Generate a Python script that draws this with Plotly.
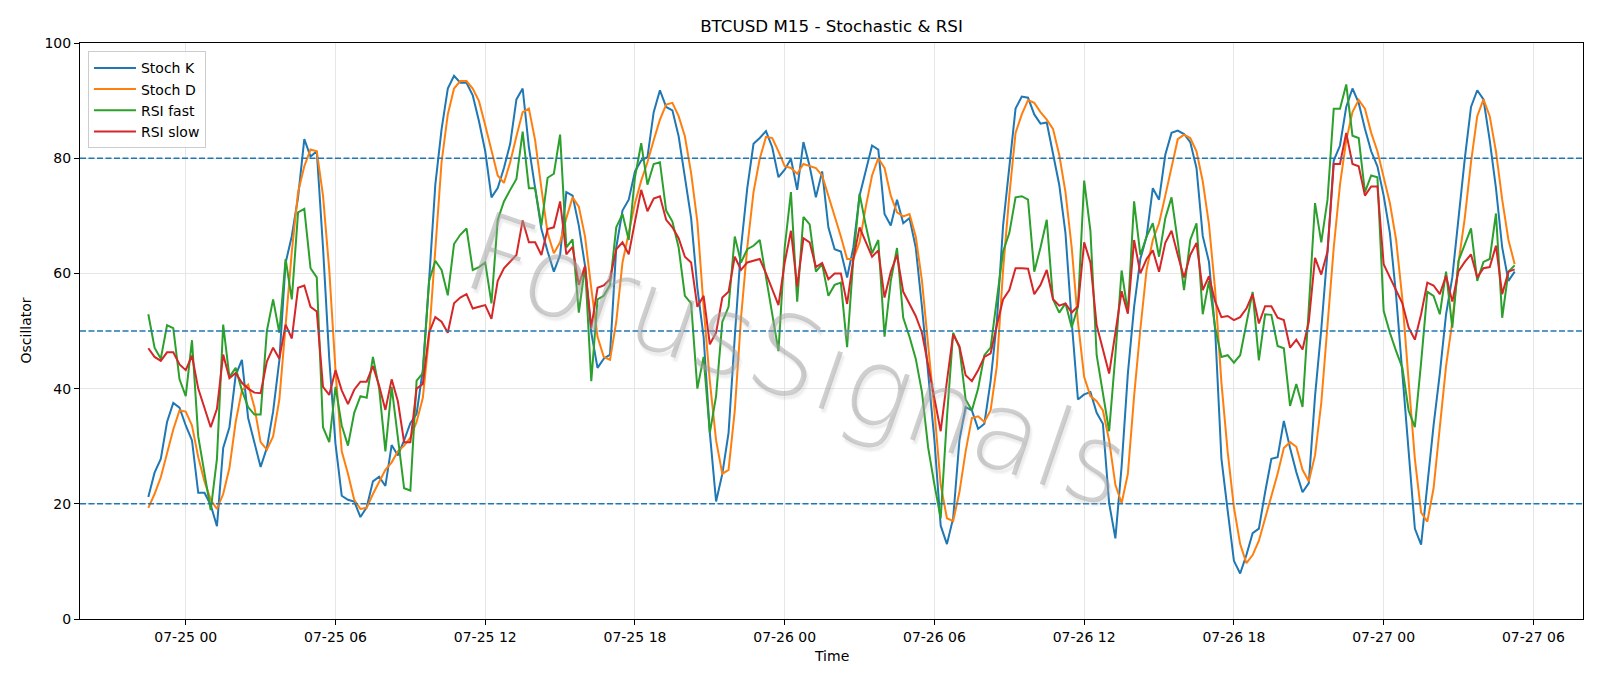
import pandas as pd
import plotly.graph_objects as go

# ---------------- data ----------------
START = "2025-07-24 22:30"
FREQ = "15min"

STOCH_K = [
    21.2, 25.4, 27.8, 34.2, 37.5, 36.7, 33.6, 31.0, 21.9, 21.9,
    19.8, 16.1, 29.7, 33.3, 42.3, 45.0, 34.9, 30.7, 26.4, 29.7,
    36.0, 44.9, 61.8, 66.5, 73.2, 83.3, 80.3, 81.2, 64.5, 45.2,
    30.4, 21.4, 20.7, 20.4, 17.7, 19.4, 23.9, 24.7, 23.1, 30.2,
    28.4, 31.0, 34.0, 35.6, 43.3, 58.7, 75.4, 85.0, 92.1, 94.3,
    93.1, 93.1, 90.9, 86.4, 81.2, 73.2, 74.8, 78.3, 82.5, 90.2,
    92.1, 81.9, 74.8, 67.7, 63.8, 60.3, 63.2, 74.1, 73.5, 68.3,
    61.3, 49.7, 43.6, 45.2, 45.9, 64.5, 70.9, 72.8, 77.7, 79.6,
    80.2, 88.0, 91.8, 88.9, 88.3, 83.8, 76.7, 69.6, 57.5, 49.0,
    32.3, 20.4, 25.2, 32.3, 49.0, 64.5, 74.8, 82.5, 83.5, 84.7,
    81.9, 76.7, 78.0, 79.9, 74.5, 82.8, 78.6, 73.2, 77.7, 68.0,
    64.2, 63.8, 59.3, 64.5, 73.5, 78.0, 82.2, 81.5, 70.3, 68.3,
    72.8, 68.7, 69.6, 64.5, 54.2, 42.6, 31.0, 16.2, 13.0, 17.5,
    31.0, 36.8, 36.2, 33.0, 33.9, 41.3, 51.6, 68.3, 78.6, 88.6,
    90.7, 90.5, 87.6, 86.0, 86.2, 80.6, 75.4, 67.0, 51.6, 38.1,
    39.0, 39.4, 35.8, 33.9, 20.1, 14.0, 26.5, 42.6, 54.2, 62.5,
    66.4, 74.8, 72.8, 80.6, 84.4, 84.8, 84.2, 82.8, 78.3, 66.5,
    62.0, 50.0, 27.8, 18.8, 10.1, 7.9, 11.1, 14.9, 15.7, 22.0,
    27.8, 28.1, 34.4, 29.7, 25.5, 22.0, 23.6, 38.7, 50.3, 63.8,
    79.6, 82.2, 88.9, 92.1, 89.6, 85.1, 81.2, 78.6, 73.5, 67.0,
    56.1, 42.6, 28.4, 15.7, 12.9, 23.3, 33.6, 42.6, 52.9, 59.3,
    69.6, 79.9, 88.9, 91.8, 90.2, 83.1, 74.8, 64.5, 58.7, 60.3,
]

STOCH_D = [
    19.3, 21.7, 24.6, 28.8, 32.9, 36.2, 36.0, 33.6, 28.1, 23.9,
    20.7, 19.1, 21.7, 26.2, 34.2, 39.7, 40.7, 36.8, 30.7, 29.4,
    31.7, 38.1, 50.3, 63.8, 74.1, 78.6, 81.5, 81.2, 73.5, 60.6,
    43.2, 29.1, 25.2, 20.7, 19.1, 19.3, 21.7, 23.9, 25.9, 27.2,
    29.1, 30.1, 31.5, 34.2, 38.4, 49.0, 64.5, 79.3, 87.6, 92.1,
    93.4, 93.4, 92.1, 89.9, 85.7, 81.2, 77.0, 75.7, 79.3, 83.8,
    88.0, 88.6, 83.1, 74.8, 67.0, 63.5, 65.4, 69.6, 73.2, 71.6,
    66.4, 57.4, 49.0, 45.5, 45.0, 51.6, 61.9, 67.0, 72.2, 76.1,
    79.3, 83.1, 86.7, 89.3, 89.6, 87.3, 83.8, 77.4, 69.0, 54.2,
    41.3, 31.0, 25.2, 25.9, 36.2, 52.3, 64.5, 74.1, 79.9, 83.7,
    83.5, 81.2, 78.6, 78.3, 77.3, 79.0, 78.6, 78.3, 77.0, 73.5,
    70.3, 66.4, 62.5, 62.5, 65.4, 71.6, 77.0, 80.0, 78.3, 73.5,
    70.6, 69.9, 70.3, 66.4, 58.7, 47.7, 36.2, 23.3, 17.5, 17.0,
    22.0, 29.1, 34.9, 35.2, 34.2, 36.2, 43.9, 60.6, 73.5, 84.4,
    87.6, 90.1, 89.6, 88.0, 86.7, 85.1, 80.6, 74.1, 64.5, 51.6,
    42.0, 38.7, 37.8, 36.2, 31.0, 23.3, 20.1, 25.2, 38.7, 50.3,
    60.6, 65.8, 68.7, 73.5, 78.6, 83.3, 84.1, 83.5, 81.2, 76.0,
    68.5, 57.0, 41.0, 29.0, 19.4, 13.0, 9.7, 11.1, 13.6, 17.5,
    21.4, 25.2, 29.7, 30.7, 29.9, 25.9, 23.9, 28.4, 37.5, 51.6,
    64.5, 75.4, 83.1, 88.0, 90.1, 88.6, 84.4, 81.2, 76.7, 72.2,
    65.8, 55.5, 41.3, 27.8, 18.5, 16.9, 22.7, 32.9, 43.9, 51.6,
    61.9, 69.6, 79.3, 87.3, 90.2, 87.3, 81.2, 72.8, 65.8, 61.6,
]

RSI_FAST = [
    52.9, 47.1, 45.2, 51.0, 50.5, 41.6, 38.7, 48.4, 31.7, 25.2,
    18.9, 27.8, 51.1, 42.0, 43.6, 39.7, 36.8, 35.5, 35.5, 50.0,
    55.5, 49.7, 62.5, 55.5, 70.6, 71.2, 60.9, 59.3, 33.3, 30.7,
    40.3, 33.6, 30.1, 35.8, 38.7, 38.4, 45.5, 40.0, 29.1, 40.3,
    31.7, 22.7, 22.3, 41.4, 42.7, 58.7, 62.2, 60.6, 56.2, 65.1,
    66.7, 67.8, 60.6, 61.1, 61.9, 54.8, 69.3, 72.5, 74.5, 76.4,
    84.6, 74.8, 74.8, 68.3, 76.6, 77.3, 84.1, 64.5, 65.9, 53.2,
    61.3, 41.3, 55.5, 56.1, 58.0, 68.0, 70.3, 65.8, 76.7, 82.6,
    75.4, 79.0, 79.3, 70.9, 69.0, 64.5, 56.1, 54.8, 40.0, 45.5,
    32.3, 38.7, 51.6, 54.2, 66.4, 61.9, 64.2, 64.8, 65.8, 59.3,
    52.9, 46.5, 64.5, 74.1, 55.1, 69.8, 68.5, 60.3, 61.6, 56.1,
    58.0, 58.4, 47.2, 62.5, 73.8, 68.3, 63.5, 65.8, 49.0, 58.7,
    64.4, 52.3, 49.0, 45.2, 39.4, 29.7, 23.3, 17.5, 34.9, 49.7,
    47.1, 38.1, 36.2, 40.0, 45.8, 47.1, 55.5, 63.8, 67.0, 73.2,
    73.4, 72.8, 60.3, 64.5, 69.3, 55.5, 53.2, 54.8, 50.6, 54.2,
    76.1, 67.4, 45.8, 39.1, 32.6, 45.8, 60.5, 53.2, 72.5, 63.2,
    66.4, 68.7, 62.9, 69.6, 73.2, 65.5, 57.1, 65.8, 68.7, 52.9,
    58.7, 50.5, 45.5, 45.8, 44.5, 45.8, 51.0, 56.8, 44.9, 52.9,
    52.8, 47.4, 47.0, 37.0, 40.8, 36.8, 54.0, 72.2, 65.4, 72.8,
    88.6, 88.6, 92.8, 83.9, 83.5, 74.1, 77.0, 76.7, 53.5, 49.7,
    46.5, 43.6, 36.2, 33.3, 44.5, 56.8, 56.1, 52.9, 60.3, 50.6,
    62.2, 65.1, 67.8, 58.7, 62.0, 62.5, 70.4, 52.3, 60.3, 61.4,
]

RSI_SLOW = [
    47.0, 45.5, 44.8, 46.3, 46.3, 44.2, 43.2, 45.7, 40.0, 36.8,
    33.3, 36.5, 45.9, 41.8, 42.7, 41.0, 40.0, 39.3, 39.2, 44.7,
    47.1, 45.2, 51.1, 48.7, 57.5, 57.9, 54.2, 53.4, 40.3, 38.9,
    43.2, 39.7, 37.3, 39.8, 41.2, 41.2, 43.9, 40.5, 36.3, 41.6,
    37.8, 30.7, 30.7, 40.0, 40.8, 49.7, 52.4, 51.6, 49.7, 54.8,
    55.8, 56.4, 53.9, 54.2, 54.5, 52.1, 58.7, 60.9, 62.0, 63.2,
    69.2, 65.4, 65.4, 63.2, 67.7, 68.0, 72.5, 63.3, 64.6, 58.0,
    61.3, 50.6, 57.5, 57.9, 59.0, 64.2, 65.4, 63.3, 69.0, 74.5,
    70.8, 73.0, 73.4, 69.3, 68.0, 66.1, 62.9, 61.9, 54.2, 56.1,
    47.7, 49.7, 55.8, 56.8, 62.9, 60.6, 61.9, 62.2, 62.5, 60.0,
    57.4, 54.5, 61.9, 67.4, 57.7, 66.1, 65.4, 61.1, 61.8, 59.0,
    60.0, 60.0, 54.7, 62.5, 68.0, 65.4, 62.9, 64.0, 55.8, 60.3,
    63.2, 56.8, 54.8, 52.6, 49.7, 43.9, 38.1, 32.6, 41.3, 49.4,
    47.4, 42.3, 41.3, 43.2, 45.5, 46.1, 51.0, 55.5, 57.1, 60.9,
    60.9, 60.8, 56.4, 58.0, 60.6, 55.5, 54.4, 54.8, 53.2, 54.3,
    65.4, 61.9, 51.0, 46.8, 42.6, 49.7, 56.9, 53.0, 65.8, 60.0,
    62.5, 64.0, 60.3, 65.3, 67.4, 63.2, 59.3, 63.2, 65.3, 57.1,
    59.5, 55.1, 52.4, 52.6, 51.9, 52.4, 53.9, 56.4, 51.3, 54.3,
    54.3, 52.3, 51.9, 47.1, 48.5, 46.8, 51.6, 62.7, 59.8, 63.8,
    79.0, 79.0, 84.4, 79.0, 78.6, 73.5, 75.1, 75.1, 61.6, 59.3,
    57.1, 54.8, 50.6, 48.5, 52.9, 58.4, 57.9, 56.4, 59.6, 55.1,
    60.4, 62.0, 63.3, 59.3, 60.9, 61.1, 64.8, 56.4, 60.3, 60.7,
]

SERIES_NAMES = ["Stoch K", "Stoch D", "RSI fast", "RSI slow"]
LEVELS = [20, 50, 80]
Y_TICKS = [0, 20, 40, 60, 80, 100]

assert all(len(s) == len(STOCH_K) for s in (STOCH_D, RSI_FAST, RSI_SLOW))

times = pd.date_range(START, periods=len(STOCH_K), freq=FREQ)

# matplotlib-like 5% x margins
span = times[-1] - times[0]
x_range = [times[0] - 0.05 * span, times[-1] + 0.05 * span]

COLORS = ["#1f77b4", "#ff7f0e", "#2ca02c", "#d62728"]
FONT = "DejaVu Sans"

fig = go.Figure()
for name, vals, col in zip(SERIES_NAMES, [STOCH_K, STOCH_D, RSI_FAST, RSI_SLOW], COLORS):
    fig.add_trace(go.Scatter(x=times, y=vals, mode="lines", name=name,
                             line=dict(color=col, width=2)))

for lvl in LEVELS:
    fig.add_hline(y=lvl, line=dict(color="#1f77b4", width=1.4, dash="6px,2.5px"))

W, H = 1600, 686
L, R, T, B = 80, 17, 43, 67

axis_common = dict(
    showline=True, linecolor="black", linewidth=1, mirror=True,
    ticks="outside", ticklen=5, tickcolor="black", tickwidth=1,
    showgrid=True, gridcolor="#e6e6e6", gridwidth=1, zeroline=False,
    tickfont=dict(family=FONT, size=14, color="black"),
)

fig.update_layout(
    width=W, height=H,
    margin=dict(l=L, r=R, t=T, b=B, pad=0),
    paper_bgcolor="white", plot_bgcolor="white",
    font=dict(family=FONT, size=14, color="black"),
    title=dict(text="BTCUSD M15 - Stochastic & RSI", x=0.5, xref="paper",
               xanchor="center", y=1 - 26 / H, yref="container", yanchor="middle",
               font=dict(family=FONT, size=16.7, color="black")),
    xaxis=dict(type="date", range=x_range, tick0="2025-07-25 00:00",
               dtick=6 * 3600 * 1000, tickformat="%m-%d %H", **axis_common),
    yaxis=dict(range=[0, 100], tickvals=Y_TICKS, **axis_common),
    legend=dict(x=0.0053, y=0.9856, xanchor="left", yanchor="top",
                bgcolor="rgba(255,255,255,0.8)", bordercolor="#cccccc", borderwidth=1,
                font=dict(family=FONT, size=14, color="black"),
                itemwidth=42, tracegroupgap=0),
    showlegend=True,
)

plot_h = H - T - B
plot_w = W - L - R
fig.add_annotation(text="Oscillator", xref="paper", yref="paper",
                   x=(25.5 - L) / plot_w, y=0.5, textangle=-90, showarrow=False,
                   xanchor="center", yanchor="middle",
                   font=dict(family=FONT, size=14, color="black"))
fig.add_annotation(text="Time", xref="paper", yref="paper",
                   x=0.5, y=-(656 - (H - B)) / plot_h, showarrow=False,
                   xanchor="center", yanchor="middle",
                   font=dict(family=FONT, size=14, color="black"))

# watermark: thin grey letters with a soft offset shadow
fig.add_annotation(
    text="ForusSignals", xref="paper", yref="paper",
    x=(797 - L) / plot_w, y=((H - B) - 360) / plot_h,
    xanchor="center", yanchor="middle", textangle=19, showarrow=False,
    font=dict(family="DejaVu Sans ExtraLight, DejaVu Sans", size=110, weight=200,
              color="rgba(160,160,160,0.5)",
              shadow="3px 3px 2px rgba(175,175,175,0.45)"),
)

fig.write_html("out.html")
